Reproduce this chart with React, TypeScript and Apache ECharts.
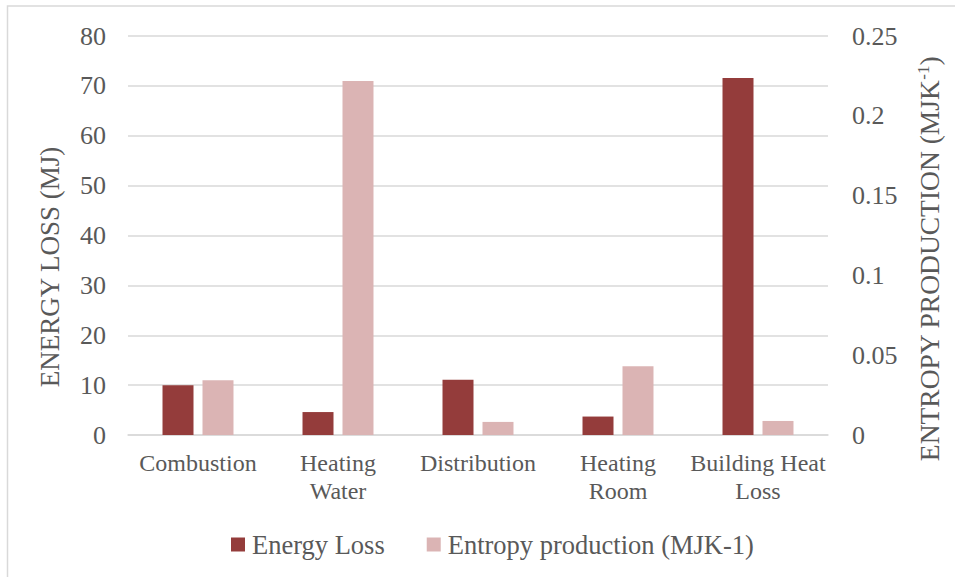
import React, { useEffect, useRef } from "react";
import * as echarts from "echarts";

const categories = ["Combustion", "Heating\nWater", "Distribution", "Heating\nRoom", "Building Heat\nLoss"];
const energyLoss = [10, 4.6, 11.1, 3.7, 71.6];
const entropyProduction = [0.0343, 0.2218, 0.0082, 0.0431, 0.0088];
const leftTicks = { min: 0, max: 80, interval: 10 };
const rightTicks = { min: 0, max: 0.25, interval: 0.05 };

const FONT = "'Liberation Serif', 'Times New Roman', serif";
const TEXT = "#595959";
const GRID = "#D9D9D9";

export default function App() {
  const ref = useRef<HTMLDivElement>(null);
  useEffect(() => {
    if (!ref.current) return;
    const chart = echarts.init(ref.current, undefined, { renderer: "svg" });
    chart.setOption({
      animation: false,
      backgroundColor: "#ffffff",
      textStyle: { fontFamily: FONT, color: TEXT },
      grid: { left: 128, right: 127, top: 36, bottom: 142, containLabel: false },
      legend: {
        bottom: 14,
        left: 226,
        itemWidth: 14,
        itemHeight: 14,
        itemGap: 42,
        icon: "rect",
        textStyle: { fontFamily: FONT, fontSize: 26.5, color: TEXT, padding: [0, 0, 0, 2] },
        data: ["Energy Loss", "Entropy production (MJK-1)"],
      },
      xAxis: {
        type: "category",
        data: categories,
        axisLine: { show: true, lineStyle: { color: GRID, width: 1.5 } },
        axisTick: { show: false },
        axisLabel: { fontFamily: FONT, fontSize: 24, color: TEXT, margin: 14, lineHeight: 28, interval: 0 },
      },
      yAxis: [
        {
          type: "value",
          min: leftTicks.min,
          max: leftTicks.max,
          interval: leftTicks.interval,
          axisLine: { show: false },
          axisTick: { show: false },
          splitLine: { lineStyle: { color: GRID, width: 1.5 } },
          axisLabel: { fontFamily: FONT, fontSize: 26, color: TEXT, margin: 22 },
        },
        {
          type: "value",
          min: rightTicks.min,
          max: rightTicks.max,
          interval: rightTicks.interval,
          axisLine: { show: false },
          axisTick: { show: false },
          splitLine: { show: false },
          axisLabel: { fontFamily: FONT, fontSize: 26, color: TEXT, margin: 24 },
        },
      ],
      series: [
        {
          name: "Energy Loss",
          type: "bar",
          yAxisIndex: 0,
          data: energyLoss,
          barWidth: 31,
          barGap: "29%",
          itemStyle: { color: "#943C3B" },
        },
        {
          name: "Entropy production (MJK-1)",
          type: "bar",
          yAxisIndex: 1,
          data: entropyProduction,
          barWidth: 31,
          barGap: "29%",
          itemStyle: { color: "#DBB4B4" },
        },
      ],
      graphic: [
        {
          type: "rect",
          shape: { x: 7.5, y: 6, width: 1000, height: 700 },
          style: { fill: "none", stroke: GRID, lineWidth: 1.5 },
          silent: true,
        },
        {
          type: "text",
          x: 50,
          y: 267,
          rotation: Math.PI / 2,
          style: {
            text: "ENERGY LOSS (MJ)",
            fontFamily: FONT,
            fontSize: 27,
            fill: TEXT,
            align: "center",
            verticalAlign: "middle",
          },
        },
        {
          type: "text",
          x: 929,
          y: 259,
          rotation: Math.PI / 2,
          style: {
            text: "{a|ENTROPY PRODUCTION (MJK}{s|-1}{a|)}",
            fontFamily: FONT,
            fontSize: 27.5,
            fill: TEXT,
            align: "center",
            verticalAlign: "middle",
            rich: {
              a: { fontFamily: FONT, fontSize: 27.5, fill: TEXT, color: TEXT },
              s: { fontFamily: FONT, fontSize: 17, fill: TEXT, color: TEXT, verticalAlign: "top", padding: [0, 0, 10, 0] },
            },
          },
        },
      ],
    });
    return () => chart.dispose();
  }, []);
  return (
    <div
      ref={ref}
      style={{ position: "fixed", left: 0, top: 0, width: 955, height: 577 }}
    />
  );
}
